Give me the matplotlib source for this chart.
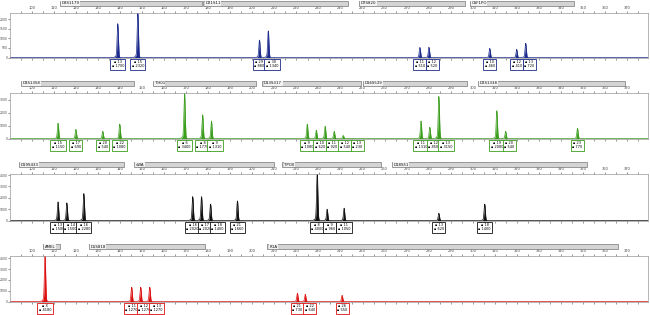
import matplotlib.pyplot as plt
import matplotlib.transforms as mtransforms
from matplotlib.patches import FancyBboxPatch
import numpy as np

# ---- data (size in bp, height in RFU) ----
blue_size = [138.9, 148.0, 203.2, 207.2, 276.0, 280.1, 307.7, 319.9, 324.0]
blue_height = [1700, 2320, 880, 1340, 510, 520, 460, 410, 720]
blue_allele = ['13', '15', '29', '30', '11', '12', '10', '12', '13']

green_size = [111.8, 119.9, 132.1, 139.8, 169.2, 177.4, 181.4, 224.9, 229.0, 233.0,
              237.1, 241.2, 276.5, 280.5, 284.6, 310.9, 314.9, 347.5]
green_height = [1150, 690, 540, 1080, 3400, 1770, 1310, 1080, 620, 920,
                540, 230, 1310, 850, 3150, 2080, 540, 770]
green_allele = ['15', '17', '20', '22', '6', '8', '9', '9', '10', '11',
                '12', '13', '11', '12', '13', '19', '20', '23']

black_size = [111.8, 115.8, 123.5, 172.9, 176.9, 181.0, 193.2, 229.4, 233.9, 241.6,
              284.6, 305.4]
black_height = [1580, 1500, 2280, 2020, 2020, 1400, 1660, 4000, 960, 1050, 620, 1400]
black_allele = ['13', '14', '16', '16', '17', '18', '21', '8', '9', '11', '13', '18']

red_size = [105.9, 145.2, 149.3, 153.4, 220.4, 224.0, 240.7]
red_height = [4180, 1270, 1270, 1270, 730, 640, 550]
red_allele = ['X', '11', '12', '13', '21', '22', '26']

# locus name, start bp, end bp
blue_loci = [('D8S1179', 112.7, 176.9), ('D21S11', 177.8, 243.4),
             ('D7S820', 248.4, 296.4), ('CSF1PO', 298.6, 345.7)]
green_loci = [('D3S1358', 95.0, 146.2), ('TH01', 154.8, 201.8), ('D13S317', 204.5, 249.3),
              ('D16S539', 250.2, 297.3), ('D2S1338', 302.3, 369.2)]
black_loci = [('D19S433', 94.1, 141.6), ('vWA', 146.2, 210.0), ('TPOX', 213.6, 258.4),
              ('D18S51', 263.3, 352.0)]
red_loci = [('AMEL', 105.0, 112.7), ('D5S818', 125.8, 178.7), ('FGA', 206.8, 366.1)]

panels = [
    (blue_size, blue_height, blue_allele, blue_loci, '#1c2a8c', [0, 500, 1000, 1500, 2000], 2330, (13, 58)),
    (green_size, green_height, green_allele, green_loci, '#3c9e1e', [0, 1000, 2000, 3000], 3540, (93, 139)),
    (black_size, black_height, black_allele, black_loci, '#111111', [0, 1000, 2000, 3000, 4000], 4100, (174, 221)),
    (red_size, red_height, red_allele, red_loci, '#dd1111', [0, 1000, 2000, 3000, 4000], 4200, (256, 302)),
]

W, H = 650, 315
fig = plt.figure(figsize=(6.5, 3.15), dpi=100)
fig.patch.set_facecolor('white')

xmin, xmax = 90, 379.5
x = np.linspace(xmin, xmax, 6000)
left, right = 10, 648
px_per_bp = (right - left) / (xmax - xmin)

for sizes, heights, alleles, loci, col, yticks, ytop, (yt, yb) in panels:
    ax = fig.add_axes([left / W, 1 - yb / H, (right - left) / W, (yb - yt) / H])
    ax.set_xlim(xmin, xmax)
    ax.set_ylim(-ytop * 0.01, ytop)

    # trace built from the called peaks
    trace = np.zeros_like(x)
    for s, h in zip(sizes, heights):
        trace += h * np.exp(-0.5 * ((x - s) / 0.28) ** 2)
        trace += 0.05 * h * np.exp(-0.5 * ((x - s + 0.4) / 0.7) ** 2)
    ax.fill_between(x, 0, trace, color=col, lw=0)
    ax.plot(x, trace, color=col, lw=0.5)
    ax.axhline(0, color=col, lw=0.8)

    for sp in ax.spines.values():
        sp.set_color('#999999')
        sp.set_linewidth(0.5)

    ax.xaxis.tick_top()
    ax.set_xticks(np.arange(100, 380, 10))
    ax.set_xticks(np.arange(95, 380, 5), minor=True)
    ax.tick_params(axis='x', which='both', top=True, bottom=True, labelsize=2.6,
                   length=1.5, width=0.4, pad=1, colors='#444444')
    ax.set_yticks(yticks)
    ax.tick_params(axis='y', labelsize=2.2, length=1.2, width=0.4, pad=0.5, colors='#444444')

    # locus bars above the panel
    btr = mtransforms.blended_transform_factory(ax.transData, fig.transFigure)
    by0 = 1 - (yt - 7) / H
    bh = 5 / H
    for name, a, b in loci:
        bar = FancyBboxPatch((a, by0), b - a, bh, boxstyle='square,pad=0',
                             transform=btr, facecolor='#d4d4d4', edgecolor='#777777',
                             lw=0.5, clip_on=False)
        fig.patches.append(bar)
        fig.text(a + 0.8, by0 + bh / 2, name, transform=btr, fontsize=2.8,
                 va='center', ha='left', color='#111111',
                 bbox=dict(facecolor='#f2f2f2', edgecolor='none', pad=0.3))

    # allele label boxes, pushed apart so they don't overlap
    bw = 12.5 / px_per_bp
    centers = []
    prev = -1e9
    for s in sizes:
        c = max(s, prev + bw)
        centers.append(c)
        prev = c
    ltr = mtransforms.blended_transform_factory(ax.transData, fig.transFigure)
    for c, al, h in zip(centers, alleles, heights):
        fig.text(c, 1 - (yb + 2) / H, '\u25aa ' + al + '\n\u25aa ' + str(h), transform=ltr,
                 fontsize=2.5, ha='center', va='top', linespacing=1.1,
                 bbox=dict(facecolor='white', edgecolor=col, lw=0.6, pad=1.0))

fig.savefig('out.png', dpi=100, facecolor='white')
